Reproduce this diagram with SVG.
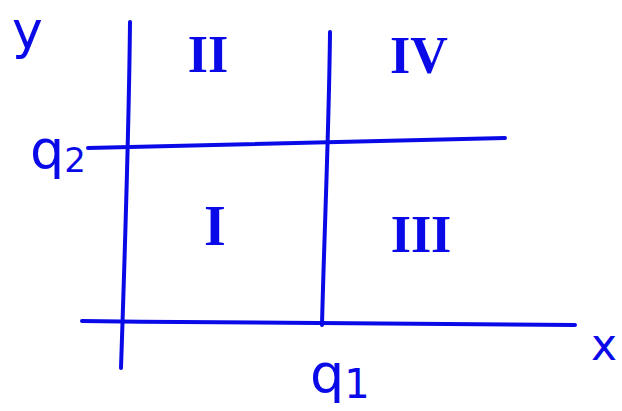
<svg xmlns="http://www.w3.org/2000/svg" width="622" height="411" viewBox="0 0 622 411">
<style>
.ln{fill:none;stroke:#0a0ae8;stroke-width:4;stroke-linecap:round;stroke-linejoin:round}
.t{fill:#0a0ae8;font-family:"DejaVu Sans","Liberation Sans",sans-serif}
.r{fill:#0a0ae8;font-family:"Liberation Serif",serif;font-weight:bold;text-anchor:middle}
</style>
<rect width="622" height="411" fill="#ffffff"/>
<g id="connectors">
<path class="ln" d="M130,22 C129,120 125,250 121,368"/>
<path class="ln" d="M330,32 C329,130 324,240 322,325"/>
<path class="ln" d="M88,148 C200,146 350,142 505,138"/>
<path class="ln" d="M82,321 C250,323 420,324 575,325"/>
</g>
<g id="axis-y"><text class="t" x="12" y="48" font-size="52">y</text></g>
<g id="axis-x"><text class="t" x="591" y="360" font-size="44">x</text></g>
<g id="q2"><text class="t" x="30" y="168" font-size="54">q<tspan font-size="34" dy="4">2</tspan></text></g>
<g id="q1"><text class="t" x="310" y="392" font-size="54">q<tspan font-size="40" dy="6">1</tspan></text></g>
<g id="region-II"><text class="r" x="208" y="72" font-size="52">II</text></g>
<g id="region-IV"><text class="r" x="419" y="73" font-size="52">IV</text></g>
<g id="region-I"><text class="r" x="215" y="245" font-size="56">I</text></g>
<g id="region-III"><text class="r" x="421" y="252" font-size="52">III</text></g>
</svg>
